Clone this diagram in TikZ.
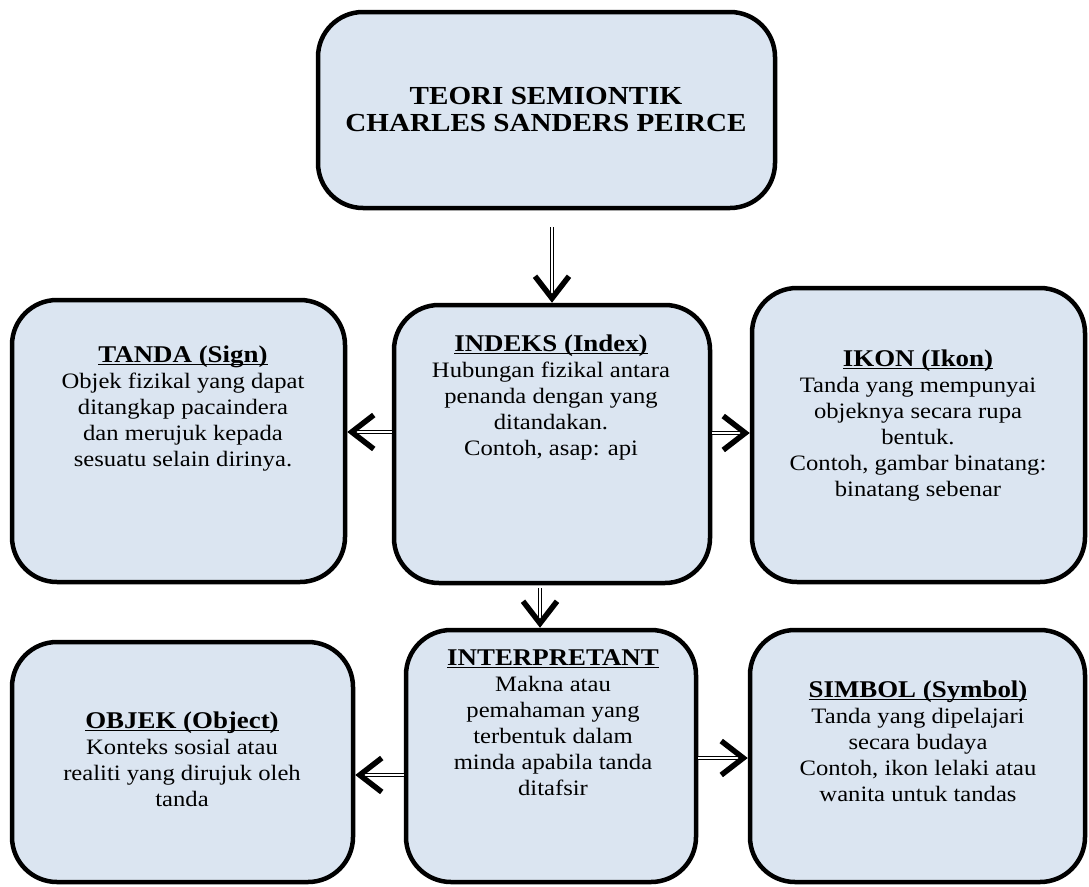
\documentclass[tikz,border=0pt]{standalone}
\usepackage{fontspec}
\setmainfont[FakeStretch=1.12]{Liberation Serif}
\usetikzlibrary{arrows.meta}
\definecolor{boxblue}{HTML}{DBE5F1}
\newcommand{\judul}[1]{{\fontsize{24}{26}\selectfont\underline{\smash{\textbf{#1}}}}}
\tikzset{
  kotak/.style={draw, line width=4.5pt, fill=boxblue, rounded corners=45pt, inner sep=0pt},
  teks/.style={align=center, font=\fontsize{22}{26}\selectfont},
  panah/.style={double, double distance=2pt, line width=1.3pt,
    -{Straight Barb[length=22pt, width=34pt, line width=5.5pt]}}
}
\begin{document}
\begin{tikzpicture}[x=1pt, y=-1pt]
  \useasboundingbox (0,0) rectangle (1089,886);
  % boxes
  \node[kotak, minimum width=457pt, minimum height=196pt] (teori) at (546.5,110) {};
  \node[kotak, minimum width=333pt, minimum height=282pt] (tanda) at (178.5,441) {};
  \node[kotak, minimum width=316pt, minimum height=278pt] (indeks) at (552,444) {};
  \node[kotak, minimum width=333pt, minimum height=294pt] (ikon) at (918.5,435) {};
  \node[kotak, minimum width=341pt, minimum height=240pt] (objek) at (182.5,762) {};
  \node[kotak, minimum width=290pt, minimum height=252pt] (interp) at (551,756) {};
  \node[kotak, minimum width=335pt, minimum height=252pt] (simbol) at (917.5,756) {};
  % texts
  \node[teks, font=\fontsize{26}{27}\selectfont\bfseries] (teori-t) at (546,110) {TEORI SEMIONTIK\\CHARLES SANDERS PEIRCE};
  \node[teks] (tanda-t) at (183,417) {\judul{TANDA (Sign)}\\Objek fizikal yang dapat\\ditangkap pacaindera\\dan merujuk kepada\\sesuatu selain dirinya.};
  \node[teks] (indeks-t) at (551,406) {\judul{INDEKS (Index)}\\Hubungan fizikal antara\\penanda dengan yang\\ditandakan.\\Contoh, asap: api};
  \node[teks] (ikon-t) at (918,434) {\judul{IKON (Ikon)}\\Tanda yang mempunyai\\objeknya secara rupa\\bentuk.\\Contoh, gambar binatang:\\binatang sebenar};
  \node[teks] (objek-t) at (182,768) {\judul{OBJEK (Object)}\\Konteks sosial atau\\realiti yang dirujuk oleh\\tanda};
  \node[teks] (interp-t) at (553,731) {\judul{INTERPRETANT}\\Makna atau\\pemahaman yang\\terbentuk dalam\\minda apabila tanda\\ditafsir};
  \node[teks] (simbol-t) at (918,750) {\judul{SIMBOL (Symbol)}\\Tanda yang dipelajari\\secara budaya\\Contoh, ikon lelaki atau\\wanita untuk tandas};
  % arrows
  \coordinate (a1) at ([yshift=-17pt]teori.south -| indeks.north);
  \coordinate (a2) at ([yshift=12pt]indeks.west);
  \coordinate (a3) at ([yshift=11pt]indeks.east);
  \coordinate (a4) at ([xshift=-12pt,yshift=-3pt]indeks.south);
  \coordinate (a5) at ([yshift=-19pt]interp.west);
  \coordinate (a6) at ([yshift=-2pt]interp.east);
  \draw[panah] (a1) -- (a1 |- indeks.north);
  \draw[panah] (a2) -- (a2 -| tanda.east);
  \draw[panah] (a3) -- (a3 -| ikon.west);
  \draw[panah] (a4) -- (a4 |- interp.north);
  \draw[panah] (a5) -- (a5 -| objek.east);
  \draw[panah] (a6) -- (a6 -| simbol.west);
\end{tikzpicture}
\end{document}
